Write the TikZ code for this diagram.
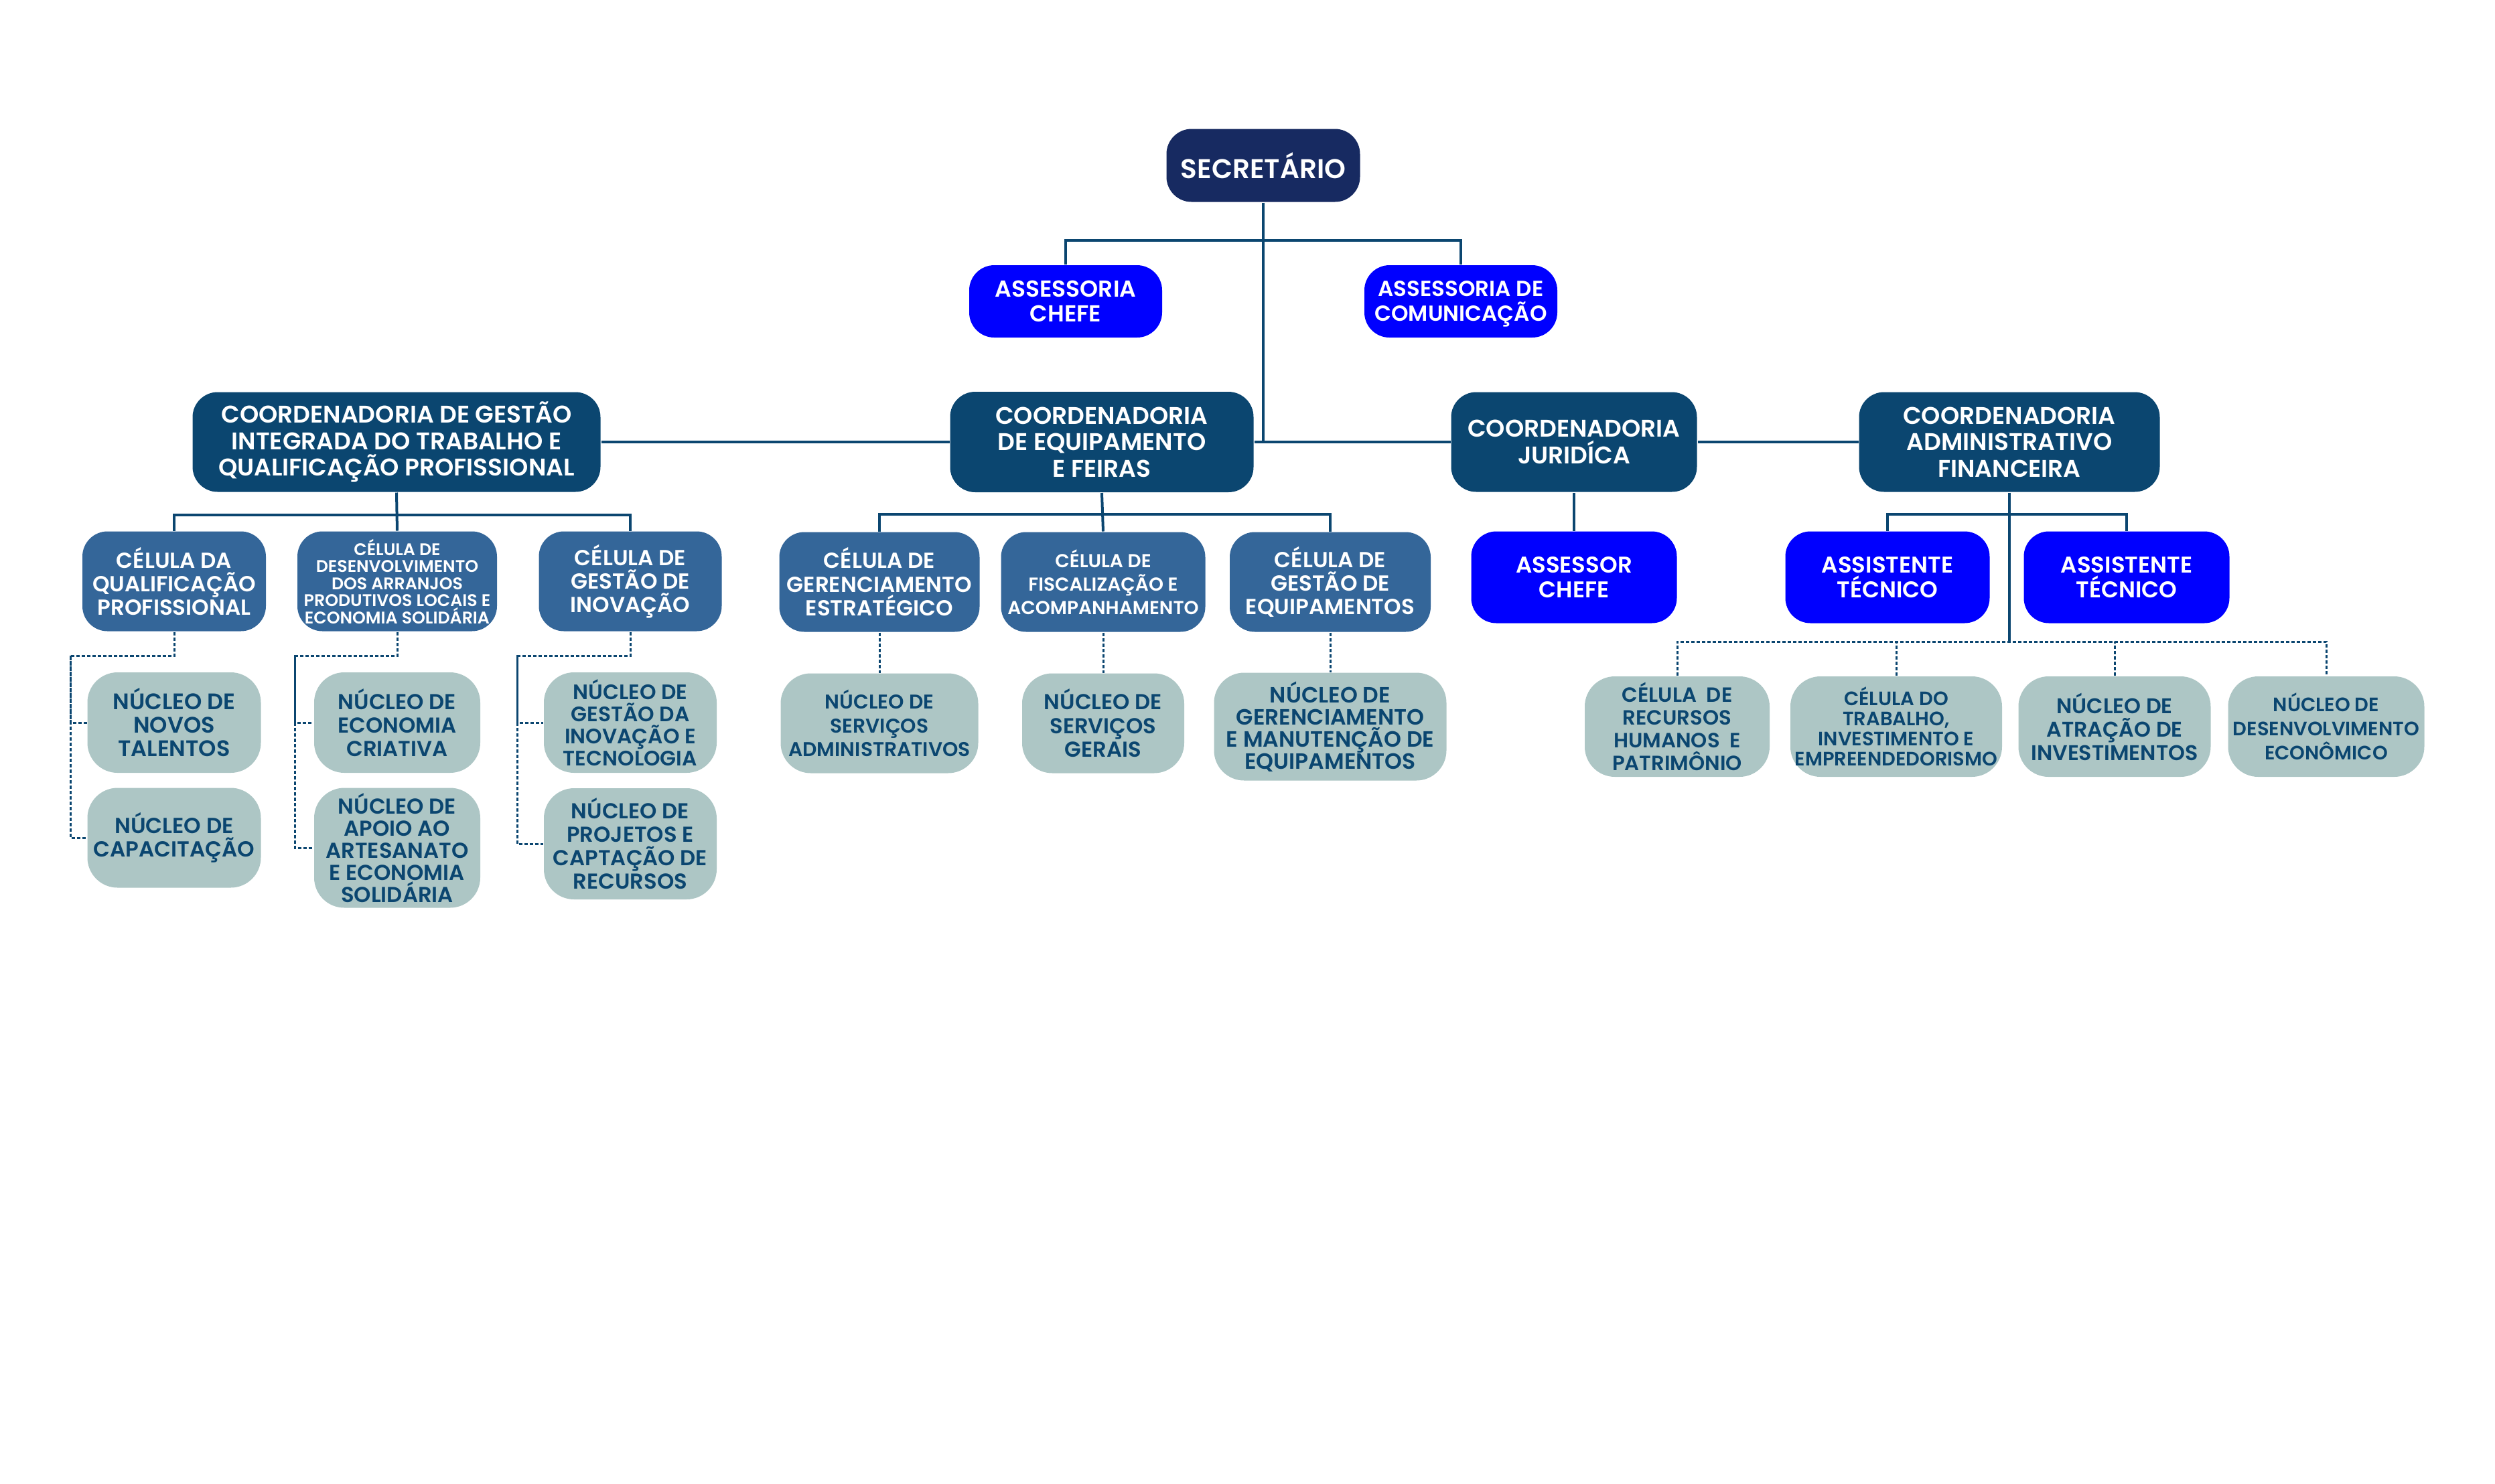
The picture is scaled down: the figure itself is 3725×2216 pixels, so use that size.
\documentclass[tikz,border=0pt]{standalone}
\usepackage{fontspec}
\setmainfont{Poppins}[BoldFont={Poppins SemiBold}]
\usetikzlibrary{calc}
\definecolor{navy}{HTML}{172A61}
\definecolor{coord}{HTML}{0B4670}
\definecolor{cel}{HTML}{346699}
\definecolor{bluebox}{HTML}{0000FF}
\definecolor{nuc}{HTML}{ADC6C5}
\definecolor{lnc}{HTML}{0B4670}
\begin{document}
\begin{tikzpicture}[x=0.2pt,y=-0.2pt,
  sz/.style n args={2}{minimum width=#1*0.2pt, minimum height=#2*0.2pt},
  fs/.style n args={2}{font=\fontsize{#1pt}{#2pt}\selectfont\bfseries},
  box/.style={rounded corners=7.5pt, align=center, inner sep=0pt},
  secbox/.style={box, fill=navy, text=white},
  coordbox/.style={box, fill=coord, text=white},
  celbox/.style={box, fill=cel, text=white},
  bluebx/.style={box, fill=bluebox, text=white},
  nucbox/.style={box, fill=nuc, text=coord, rounded corners=9pt},
  ln/.style={draw=lnc, line width=0.8pt},
  dt/.style={draw=lnc, line width=0.6pt, dash pattern=on 1pt off 0.6pt}
]
\useasboundingbox (0,0) rectangle (3725,2216);

% top
\node[secbox, sz={289}{109}, fs={8.1}{9.6}] (sec) at (1886,247) {SECRETÁRIO};
\node[bluebx, sz={288}{108}, fs={6.9}{7.4}] (ac) at (1591,450) {ASSESSORIA\\CHEFE};
\node[bluebx, sz={288}{108}, fs={6.5}{7.4}] (acom) at (2181,450) {ASSESSORIA DE\\COMUNICA\smash{Ç}ÃO};

% coordenadorias
\node[coordbox, sz={609}{149}, fs={7.2}{7.9}] (cg) at (592,660) {COORDENADORIA DE GESTÃO\\INTEGRADA DO TRABALHO E\\QUALIFICAÇÃO PROFISSIONAL};
\node[coordbox, sz={453}{150}, fs={7.2}{7.9}] (ce) at (1645,660) {COORDENADORIA\\DE EQUIPAMENTO\\E FEIRAS};
\node[coordbox, sz={367}{149}, fs={7.2}{7.9}] (cj) at (2350,660) {COORDENADORIA\\JURIDÍCA};
\node[coordbox, sz={449}{149}, fs={7.2}{7.9}] (caf) at (3000,660) {COORDENADORIA\\ADMINISTRATIVO\\FINANCEIRA};

% blue assistants
\node[bluebx, sz={307}{137}, fs={6.8}{7.3}] (asc) at (2350,862) {ASSESSOR\\CHEFE};
\node[bluebx, sz={305}{137}, fs={6.8}{7.3}] (at1) at (2818,862) {ASSISTENTE\\TÉCNICO};
\node[bluebx, sz={307}{137}, fs={6.8}{7.3}] (at2) at (3175,862) {ASSISTENTE\\TÉCNICO};

% celulas
\node[celbox, sz={274}{149}, fs={6.5}{7}] (cqp) at (260,868) {CÉLULA DA\\QUALIFICAÇÃO\\PROFISSIONAL};
\node[celbox, sz={298}{149}, fs={5.05}{5.1}] (cdapl) at (593,868) {CÉLULA DE\\DESENVOLVIMENTO\\DOS ARRANJOS\\PRODUTIVOS LOCAIS E\\ECONOMIA SOLIDÁRIA};
\node[celbox, sz={273}{149}, fs={6.5}{7}] (cinov) at (941,868) {CÉLULA DE\\GESTÃO DE\\INOVAÇÃO};
\node[celbox, sz={299}{149}, fs={6.5}{7.1}] (cge) at (1313,869) {CÉLULA DE\\GERENCIAMENTO\\ESTRATÉGICO};
\node[celbox, sz={305}{149}, fs={5.6}{7}] (cfa) at (1647,869) {CÉLULA DE\\FISCALIZAÇÃO E\\ACOMPANHAMENTO};
\node[celbox, sz={300}{149}, fs={6.5}{7}] (cgeq) at (1986,869) {CÉLULA DE\\GESTÃO DE\\EQUIPAMENTOS};

% nucleos
\node[nucbox, sz={259}{150}, fs={6.7}{7}] (nnt) at (260,1079) {NÚCLEO DE\\NOVOS\\TALENTOS};
\node[nucbox, sz={259}{149}, fs={6.5}{7}] (ncap) at (260,1251) {NÚCLEO DE\\CAPACITAÇÃO};
\node[nucbox, sz={248}{150}, fs={6.45}{7}] (nec) at (593,1079) {NÚCLEO DE\\ECONOMIA\\CRIATIVA};
\node[nucbox, sz={248}{179}, fs={6.45}{6.6}] (naa) at (593,1266) {NÚCLEO DE\\APOIO AO\\ARTESANATO\\E ECONOMIA\\SOLIDÁRIA};
\node[nucbox, sz={258}{150}, fs={6.25}{6.6}] (ngit) at (941,1079) {NÚCLEO DE\\GESTÃO DA\\INOVAÇÃO E\\TECNOLOGIA};
\node[nucbox, sz={258}{166}, fs={6.45}{7}] (npcr) at (941,1260) {NÚCLEO DE\\PROJETOS E\\CAPTAÇÃO DE\\RECURSOS};
\node[nucbox, sz={295}{149}, fs={5.95}{7.1}] (nsa) at (1313,1080) {NÚCLEO DE\\SERVIÇOS\\ADMINISTRATIVOS};
\node[nucbox, sz={242}{149}, fs={6.45}{7.1}] (nsg) at (1647,1080) {NÚCLEO DE\\SERVIÇOS\\GERAIS};
\node[nucbox, sz={347}{161}, fs={6.6}{6.6}] (ngme) at (1986,1085) {NÚCLEO DE\\GERENCIAMENTO\\E MANUTENÇÃO DE\\EQUIPAMENTOS};
\node[nucbox, sz={276}{150}, fs={6.15}{6.8}] (crh) at (2504,1085) {CÉLULA\ \ DE\\RECURSOS\\HUMANOS\ \ E\\PATRIMÔNIO};
\node[nucbox, sz={316}{150}, fs={5.8}{6}] (ctie) at (2831,1085) {CÉLULA DO\\TRABALHO,\\INVESTIMENTO E\\EMPREENDEDORISMO};
\node[nucbox, sz={287}{150}, fs={6.35}{7}] (nai) at (3157,1085) {NÚCLEO DE\\ATRAÇÃO DE\\INVESTIMENTOS};
\node[nucbox, sz={293}{150}, fs={5.8}{7.2}] (nde) at (3473,1085) {NÚCLEO DE\\DESENVOLVIMENTO\\ECONÔMICO};

% solid connectors
\draw[ln] (sec.south) -- (sec.south |- ce.east);
\draw[ln] (ce.east) -- (cj.west);
\coordinate (ba) at (1886,359);
\draw[ln] (ac.north) |- (ba) -| (acom.north);
\draw[ln] (cg.east) -- (ce.west);
\draw[ln] (cj.east) -- (caf.west);
\draw[ln] (cj.south) -- (asc.north);
\coordinate (cafb) at (3000,958);
\draw[ln] (caf.south) -- (cafb);
\draw[ln] (at1.north) |- ($(caf.south)+(0,32)$) -| (at2.north);
\draw[ln] (cg.south) -- (cdapl.north);
\draw[ln] (cqp.north) |- ($(cg.south)+(0,33)$) -| (cinov.north);
\draw[ln] (ce.south) -- (cfa.north);
\draw[ln] (cge.north) |- ($(ce.south)+(0,32)$) -| (cgeq.north);

% dotted connectors
\draw[dt] (crh.north) |- (cafb) -| (nde.north);
\draw[dt] (ctie.north) -- (ctie.north |- cafb);
\draw[dt] (nai.north) -- (nai.north |- cafb);
\draw[dt] (cge.south) -- (nsa.north);
\draw[dt] (cfa.south) -- (nsg.north);
\draw[dt] (cgeq.south) -- (ngme.north);
\coordinate (k1) at (105,979);
\coordinate (k2) at (440,979);
\coordinate (k3) at (772,979);
\draw[dt] (cqp.south) |- (k1) |- (ncap.west);
\draw[dt] (k1) |- (nnt.west);
\draw[dt] (cdapl.south) |- (k2) |- (naa.west);
\draw[dt] (k2) |- (nec.west);
\draw[dt] (cinov.south) |- (k3) |- (npcr.west);
\draw[dt] (k3) |- (ngit.west);
\end{tikzpicture}
\end{document}
